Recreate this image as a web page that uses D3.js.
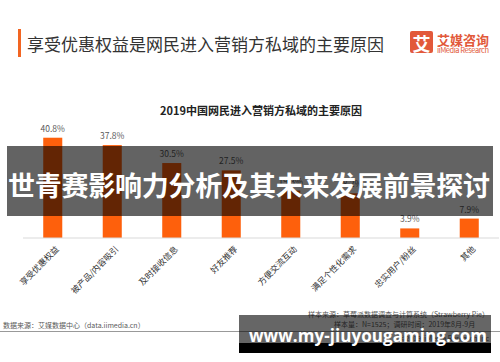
<!DOCTYPE html>
<html>
<head>
<meta charset="utf-8">
<script src="https://cdn.jsdelivr.net/npm/d3@7/dist/d3.min.js"></script>
<style>
  body { margin: 0; background: #fff; }
  svg { display: block; font-family: "Noto Sans CJK SC", "Noto Sans", sans-serif; }
</style>
</head>
<body>
<div id="chart"></div>
<script>
// chart data
const categories = ['享受优惠权益', '被产品/内容吸引', '及时接收信息', '好友推荐', '方便交流互动', '满足个性化需求', '忠实用户/粉丝', '其他'];
const values = [40.8, 37.8, 30.5, 27.5, 19.3, 18.2, 3.9, 7.9];

const width = 500;
const height = 362;
const orange = '#fe600c';

const svg = d3.select('#chart')
  .append('svg')
  .attr('width', width)
  .attr('height', height);

// page header
svg.append('rect')
  .attr('x', 18).attr('y', 29).attr('width', 3).attr('height', 28)
  .attr('fill', '#f26522');
svg.append('text')
  .attr('x', 27).attr('y', 43.5)
  .attr('dominant-baseline', 'central')
  .attr('font-size', 17)
  .attr('fill', '#333')
  .text('享受优惠权益是网民进入营销方私域的主要原因');

// logo
const logo = svg.append('g');
logo.append('rect')
  .attr('x', 410).attr('y', 31).attr('width', 23).attr('height', 22).attr('rx', 2)
  .attr('fill', '#e2593a');
logo.append('text')
  .attr('x', 421.5).attr('y', 42.5)
  .attr('text-anchor', 'middle').attr('dominant-baseline', 'central')
  .attr('font-size', 18).attr('font-weight', 'bold').attr('fill', '#fff')
  .text('艾');
logo.append('text')
  .attr('x', 437).attr('y', 39.5)
  .attr('dominant-baseline', 'central')
  .attr('font-size', 13).attr('font-weight', 'bold').attr('fill', '#e2593a')
  .attr('textLength', 52)
  .text('艾媒咨询');
logo.append('text')
  .attr('x', 437).attr('y', 49.5)
  .attr('dominant-baseline', 'central')
  .attr('font-size', 7.5).attr('fill', '#e2593a')
  .attr('textLength', 52)
  .text('iiMedia Research');

// chart title
svg.append('text')
  .attr('x', 261).attr('y', 110)
  .attr('text-anchor', 'middle').attr('dominant-baseline', 'central')
  .attr('font-size', 11).attr('font-weight', 'bold').attr('fill', '#222')
  .text('2019中国网民进入营销方私域的主要原因');

// scales
const x = d3.scaleBand()
  .domain(categories)
  .range([23, 499])
  .paddingInner(0.68)
  .paddingOuter(0.34);

const y = d3.scaleLinear()
  .domain([0, 50])
  .range([238, 238 - 122.9]);

// bars
svg.selectAll('rect.bar')
  .data(values)
  .enter()
  .append('rect')
  .attr('class', 'bar')
  .attr('x', (d, i) => x(categories[i]))
  .attr('y', d => y(d))
  .attr('width', x.bandwidth())
  .attr('height', d => y(0) - y(d))
  .attr('fill', orange);

// value labels
svg.selectAll('text.val')
  .data(values)
  .enter()
  .append('text')
  .attr('class', 'val')
  .attr('x', (d, i) => x(categories[i]) + x.bandwidth() / 2)
  .attr('y', d => y(d) - 10)
  .attr('text-anchor', 'middle').attr('dominant-baseline', 'central')
  .attr('font-size', 8.5).attr('fill', '#595959')
  .text(d => d.toFixed(1) + '%');

// baseline
svg.append('line')
  .attr('x1', 23).attr('x2', 499)
  .attr('y1', y(0)).attr('y2', y(0))
  .attr('stroke', '#d9d9d9').attr('stroke-width', 1);

// category labels
svg.selectAll('text.cat')
  .data(categories)
  .enter()
  .append('text')
  .attr('class', 'cat')
  .attr('transform', d => `translate(${x(d) + x.bandwidth() / 2 + 4},${y(0) + 9}) rotate(-45)`)
  .attr('text-anchor', 'end')
  .attr('dominant-baseline', 'central')
  .attr('font-size', 8.5).attr('fill', '#333')
  .text(d => d);

// footer
svg.append('line')
  .attr('x1', 0).attr('x2', 500)
  .attr('y1', 331.5).attr('y2', 331.5)
  .attr('stroke', '#999').attr('stroke-width', 1);
svg.append('text')
  .attr('x', 3).attr('y', 325)
  .attr('dominant-baseline', 'central')
  .attr('font-size', 7).attr('fill', '#595959')
  .text('数据来源：艾媒数据中心（data.iimedia.cn）');
svg.append('text')
  .attr('x', 489).attr('y', 313.5)
  .attr('text-anchor', 'end').attr('dominant-baseline', 'central')
  .attr('font-size', 7).attr('fill', '#595959')
  .text('样本来源：草莓派数据调查与计算系统（Strawberry Pie）');
svg.append('text')
  .attr('x', 334).attr('y', 324)
  .attr('dominant-baseline', 'central')
  .attr('font-size', 7).attr('fill', '#595959')
  .text('样本量：N=1525；调研时间：2019年8月-9月');
svg.append('text')
  .attr('x', 489).attr('y', 337.5)
  .attr('text-anchor', 'end').attr('dominant-baseline', 'central')
  .attr('font-size', 7).attr('fill', '#595959')
  .text('©2019 iiMedia Research Inc');

// overlay banner
svg.append('rect')
  .attr('x', 7).attr('y', 146).attr('width', 486).attr('height', 70)
  .attr('fill', 'rgba(0,0,0,0.61)');
svg.append('text')
  .attr('x', 249).attr('y', 184)
  .attr('text-anchor', 'middle').attr('dominant-baseline', 'central')
  .attr('font-size', 27).attr('font-weight', 'bold').attr('fill', '#fff')
  .attr('textLength', 482)
  .text('世青赛影响力分析及其未来发展前景探讨');

// watermark
svg.append('rect')
  .attr('x', 239).attr('y', 315).attr('width', 252).attr('height', 28)
  .attr('fill', 'rgba(0,0,0,0.6)');
svg.append('rect')
  .attr('x', 239).attr('y', 343).attr('width', 252).attr('height', 10)
  .attr('fill', '#000');
svg.append('text')
  .attr('x', 249).attr('y', 341.5)
  .attr('font-size', 17).attr('font-weight', 'bold').attr('fill', '#fff')
  .attr('font-family', '"Open Sans", sans-serif')
  .attr('textLength', 238)
  .text('www.my-jiuyougaming.com');
</script>
</body>
</html>
